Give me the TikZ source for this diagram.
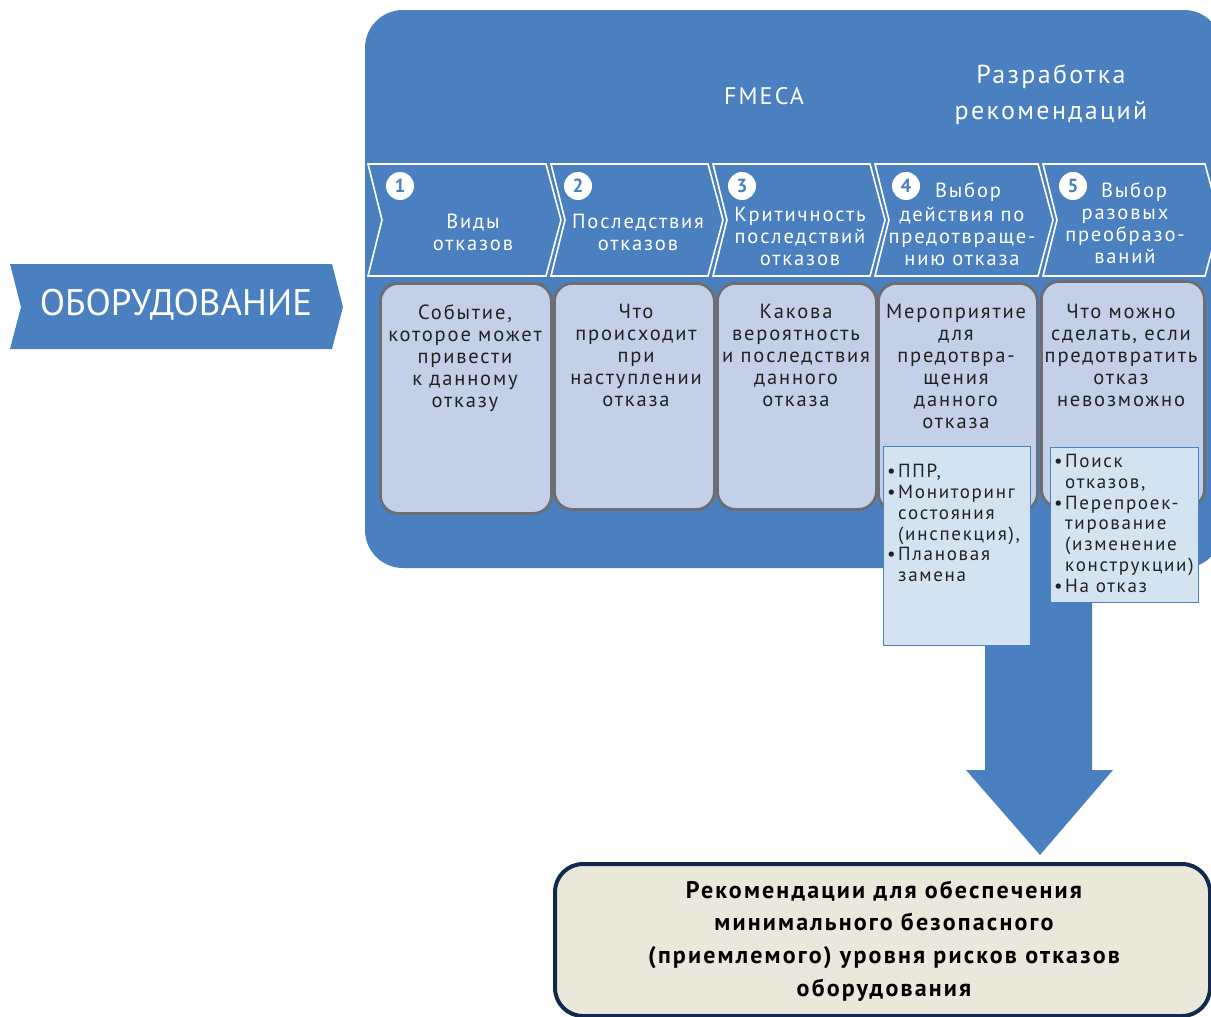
\documentclass[tikz,border=0pt]{standalone}
\usepackage{fontspec}
\setmainfont{PT Sans}[LetterSpace=9]
\newfontfamily\plainfont{PT Sans}
\definecolor{panel}{HTML}{4A80BF}
\definecolor{boxfill}{HTML}{C4D0E8}
\definecolor{boxline}{HTML}{6E6E72}
\definecolor{subfill}{HTML}{D4E3F0}
\definecolor{subline}{HTML}{4C82C2}
\definecolor{navy}{HTML}{10294D}
\definecolor{beige}{HTML}{EAE8DB}
\definecolor{txt}{HTML}{222222}
\tikzset{
  chevline/.style={draw=white, line width=1.6pt, fill=panel, line join=miter},
  numc/.style={circle, fill=white, text=panel, inner sep=0pt, minimum size=28pt, font=\plainfont\bfseries\fontsize{19}{19}\selectfont},
  chevtxt/.style={text=white, align=center, font=\fontsize{20.5}{22}\selectfont, inner sep=0pt},
  hdtxt/.style={text=white, align=center, inner sep=0pt},
  stagebox/.style={draw=boxline, line width=2.8pt, fill=boxfill, rounded corners=18pt, anchor=north west, inner sep=0pt},
  boxtxt/.style={text=txt, align=center, anchor=north, font=\fontsize{20.5}{22}\selectfont, inner sep=0pt},
  subbox/.style={draw=subline, line width=1.4pt, fill=subfill, anchor=north west, inner sep=0pt},
  subtxt/.style={text=txt, align=left, anchor=north west, font=\fontsize{19}{20.8}\selectfont, inner sep=0pt},
}
\newcommand{\bul}{\makebox[11pt][l]{•}}
\newcommand{\ind}{\hspace*{11pt}}
\begin{document}
\begin{tikzpicture}[x=1pt,y=-1pt]
\useasboundingbox (0,0) rectangle (1211,1017);
\clip (0,0) rectangle (1211,1017);

% left chevron
\fill[panel] (10,264) -- (332,264) -- (343,307) -- (332,349) -- (10,349) -- (21,307) -- cycle;
\node[text=white, inner sep=0pt, font=\plainfont\fontsize{37}{37}\selectfont] (equip) at (176,305) {ОБОРУДОВАНИЕ};

% main panel
\fill[panel, rounded corners=38pt] (365,10) rectangle (1222,568);
% big arrow
\fill[panel] (985,560) -- (1092,560) -- (1092,770) -- (1113,770) -- (1040,855) -- (966,770) -- (985,770) -- cycle;

\node[hdtxt, font=\fontsize{24}{24}\selectfont] (fmeca) at (764,96) {FMECA};
\node[hdtxt, font=\fontsize{26}{36}\selectfont] (dev) at (1051,95) {Разработка\\рекомендаций};

% chevrons
\foreach \a/\b in {368/546, 551/708, 713/870, 875/1038, 1043/1205}{
  \draw[chevline] (\a,164) -- (\b,164) -- (\b+15,220) -- (\b,276) -- (\a,276) -- (\a+14,220) -- cycle;
}
\node[numc] (n1) at (400,186) {1};
\node[numc] (n2) at (578,186) {2};
\node[numc] (n3) at (742,186) {3};
\node[numc] (n4) at (906,186) {4};
\node[numc] (n5) at (1073,186) {5};

\node[chevtxt] (c1) at (473,232) {Виды\\отказов};
\node[chevtxt] (c2) at (638,232) {Последствия\\отказов};
\node[chevtxt] (c3) at (800,236) {Критичность\\последствий\\отказов};
\node[chevtxt] (c4a) at (968,192) {Выбор};
\node[chevtxt] (c4) at (962,236) {действия по\\предотвраще-\\нию отказа};
\node[chevtxt] (c5a) at (1134,192) {Выбор};
\node[chevtxt] (c5) at (1125,236) {разовых\\преобразо-\\ваний};

% stage boxes
\node[stagebox, minimum width=171pt, minimum height=230pt] (b1) at (379,282) {};
\node[stagebox, minimum width=160pt, minimum height=226pt] (b2) at (553,282) {};
\node[stagebox, minimum width=159pt, minimum height=226pt] (b3) at (716,282) {};
\node[stagebox, minimum width=159pt, minimum height=228pt] (b4) at (877,282) {};
\node[stagebox, minimum width=163pt, minimum height=226pt] (b5) at (1040,280) {};

\node[boxtxt] (t1) at (465,304) {Событие,\\которое может\\привести\\к данному\\отказу};
\node[boxtxt] (t2) at (636,304) {Что\\происходит\\при\\наступлении\\отказа};
\node[boxtxt] (t3) at (796,304) {Какова\\вероятность\\и последствия\\данного\\отказа};
\node[boxtxt] (t4) at (956,304) {Мероприятие\\для\\предотвра-\\щения\\данного\\отказа};
\node[boxtxt] (t5) at (1121,304) {Что можно\\сделать, если\\предотвратить\\отказ\\невозможно};

% sub boxes
\node[subbox, minimum width=147pt, minimum height=199pt] (s4) at (883,446) {};
\node[subbox, minimum width=148pt, minimum height=155pt] (s5) at (1050,447) {};
\node[subtxt] (st4) at (887,464) {\bul ППР,\\\bul Мониторинг\\\ind состояния\\\ind (инспекция),\\\bul Плановая\\\ind замена};
\node[subtxt] (st5) at (1054,454) {\bul Поиск\\\ind отказов,\\\bul Перепроек-\\\ind тирование\\\ind (изменение\\\ind конструкции)\\\bul На отказ};

% result box
\node[draw=navy, line width=4pt, fill=beige, rounded corners=28pt, anchor=north west, minimum width=655pt, minimum height=152pt, inner sep=0pt] (res) at (553,862) {};
\node[text=black, align=center, inner sep=0pt, font=\bfseries\fontsize{24}{32.7}\selectfont] (restxt) at (884,941) {Рекомендации для обеспечения\\минимального безопасного\\(приемлемого) уровня рисков отказов\\оборудования};
\end{tikzpicture}
\end{document}
